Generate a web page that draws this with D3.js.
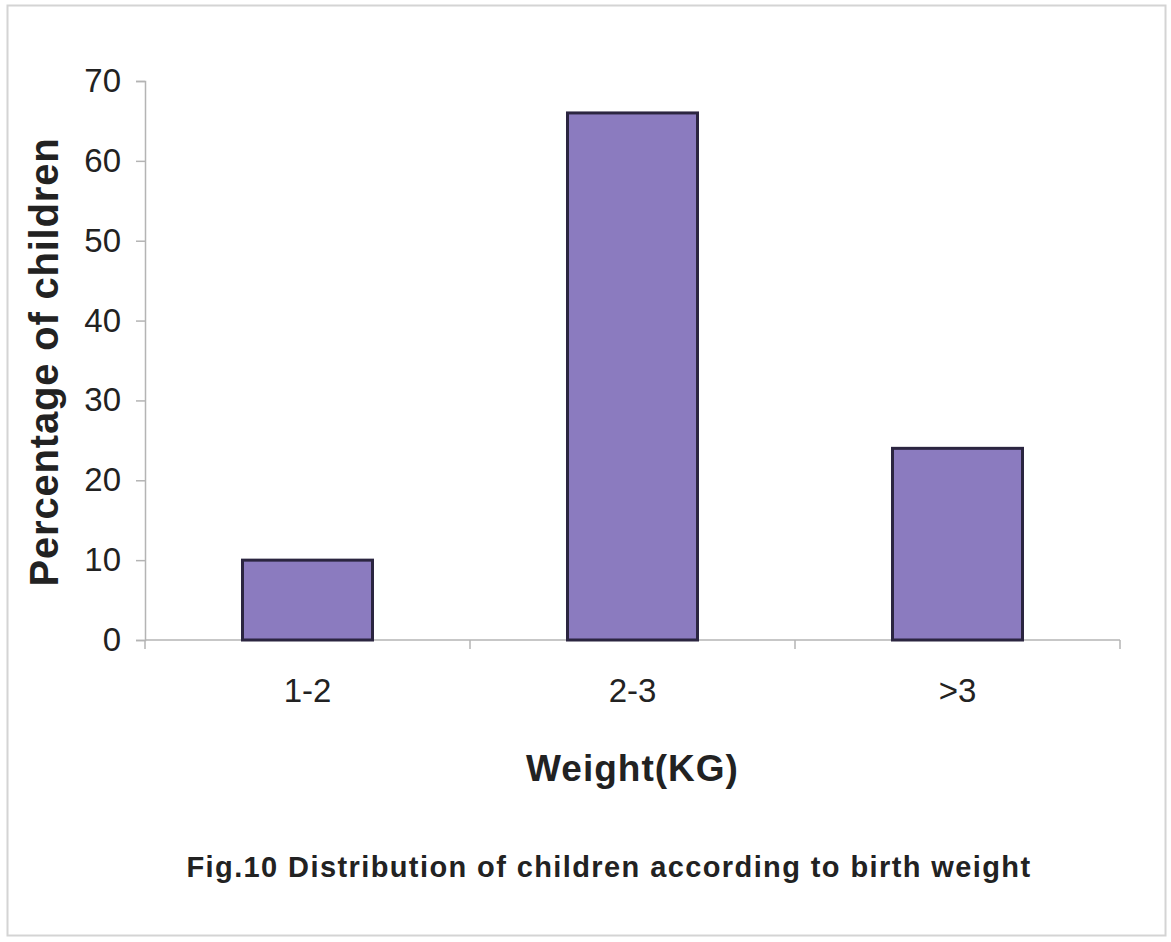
<!DOCTYPE html>
<html>
<head>
<meta charset="utf-8">
<script src="https://cdn.jsdelivr.net/npm/d3@7"></script>
<style>
  body { margin: 0; background: #fff; }
  text { font-family: "Liberation Sans", Arial, sans-serif; }
</style>
</head>
<body>
<div id="chart"></div>
<script>
// Chart data
var categories = ["1-2", "2-3", ">3"];
var percentages = [10, 66, 24];
var yTicks = [0, 10, 20, 30, 40, 50, 60, 70];

var svgWidth = 1171;
var svgHeight = 942;

var margin = { top: 81, right: 51, bottom: 302, left: 145 };
var width = svgWidth - margin.left - margin.right;
var height = svgHeight - margin.top - margin.bottom;

var svg = d3.select("#chart")
  .append("svg")
  .attr("width", svgWidth)
  .attr("height", svgHeight);

// outer frame
svg.append("rect")
  .attr("x", 7.5)
  .attr("y", 5.5)
  .attr("width", 1158)
  .attr("height", 930)
  .attr("fill", "none")
  .attr("stroke", "#d4d4d4")
  .attr("stroke-width", 2);

var chartGroup = svg.append("g")
  .attr("transform", `translate(${margin.left}, ${margin.top})`);

var xScale = d3.scaleBand()
  .domain(categories)
  .range([0, width])
  .paddingInner(0.6)
  .paddingOuter(0.3);

var yScale = d3.scaleLinear()
  .domain([0, 70])
  .range([height, 0]);

// x axis: baseline with ticks on the category boundaries
var xAxis = chartGroup.append("g")
  .attr("transform", `translate(0, ${height})`);
xAxis.append("line")
  .attr("x1", 0).attr("x2", width)
  .attr("stroke", "#b4b4b4").attr("stroke-width", 1.5);
xAxis.selectAll(".xtick")
  .data(d3.range(categories.length + 1))
  .enter()
  .append("line")
  .attr("x1", (d, i) => i * width / categories.length)
  .attr("x2", (d, i) => i * width / categories.length)
  .attr("y1", 0).attr("y2", 9)
  .attr("stroke", "#b4b4b4").attr("stroke-width", 1.5);
xAxis.selectAll(".xlabel")
  .data(categories)
  .enter()
  .append("text")
  .attr("x", d => xScale(d) + xScale.bandwidth() / 2)
  .attr("y", 62)
  .attr("text-anchor", "middle")
  .attr("font-size", 33)
  .attr("fill", "#222")
  .text(d => d);

// y axis
var leftAxis = d3.axisLeft(yScale)
  .tickValues(yTicks)
  .tickSize(9)
  .tickPadding(15);
var yAxis = chartGroup.append("g").call(leftAxis);
yAxis.select(".domain").attr("stroke", "#b4b4b4").attr("stroke-width", 1.5);
yAxis.selectAll(".tick line").attr("stroke", "#b4b4b4").attr("stroke-width", 1.5);
yAxis.selectAll(".tick text")
  .attr("font-size", 33)
  .attr("fill", "#222")
  .attr("font-family", "Liberation Sans, Arial, sans-serif");

// bars
chartGroup.selectAll(".bar")
  .data(percentages)
  .enter()
  .append("rect")
  .attr("class", "bar")
  .attr("x", (d, i) => xScale(categories[i]))
  .attr("y", d => yScale(d))
  .attr("width", xScale.bandwidth())
  .attr("height", d => height - yScale(d))
  .attr("fill", "#8b7bbf")
  .attr("stroke", "#2b2540")
  .attr("stroke-width", 3);

// axis titles
chartGroup.append("text")
  .attr("transform", "rotate(-90)")
  .attr("x", -(362 - margin.top))
  .attr("y", 58 - margin.left)
  .attr("text-anchor", "middle")
  .attr("font-size", 40)
  .attr("letter-spacing", 0.8)
  .attr("font-weight", "bold")
  .attr("fill", "#222")
  .text("Percentage of children");

chartGroup.append("text")
  .attr("x", xScale("2-3") + xScale.bandwidth() / 2)
  .attr("y", height + 141)
  .attr("text-anchor", "middle")
  .attr("font-size", 37)
  .attr("letter-spacing", 1)
  .attr("font-weight", "bold")
  .attr("fill", "#222")
  .text("Weight(KG)");

// caption
svg.append("text")
  .attr("x", 609)
  .attr("y", 877)
  .attr("text-anchor", "middle")
  .attr("font-size", 29)
  .attr("letter-spacing", 1.4)
  .attr("font-weight", "bold")
  .attr("fill", "#222")
  .text("Fig.10 Distribution of children according to birth weight");
</script>
</body>
</html>
